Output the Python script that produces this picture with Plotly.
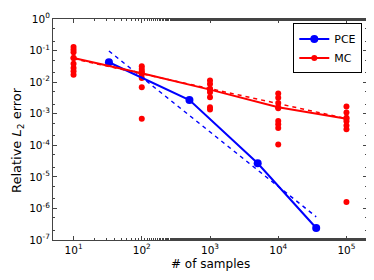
import plotly.graph_objects as go

# PCE data
pce_n = [33, 500, 5000, 36000]
pce_err = [0.0427, 0.0027, 2.7e-5, 2.4e-7]
pce_fit_n = [33, 36000]
pce_fit_err = [0.097, 5.4e-7]

# MC mean data
mc_n = [10, 100, 1000, 10000, 100000]
mc_err = [0.058, 0.019, 0.0058, 0.0016, 6.9e-4]
mc_fit_n = [10, 100000]
mc_fit_err = [0.055, 7.0e-4]

# MC individual runs
mc_runs_n = (
    [10] * 8 + [100] * 7 + [1000] * 7 + [10000] * 8 + [100000] * 7
)
mc_runs_err = (
    [0.13, 0.107, 0.089, 0.058, 0.038, 0.028, 0.022, 0.017]
    + [0.032, 0.026, 0.022, 0.018, 0.0135, 0.0069, 0.00069]
    + [0.0112, 0.0088, 0.0062, 0.0048, 0.0033, 0.0016, 0.00135]
    + [0.0044, 0.0032, 0.0022, 0.0015, 5.9e-4, 4.6e-4, 3.5e-4, 1.05e-4]
    + [0.0017, 0.0011, 7.4e-4, 5.8e-4, 4.2e-4, 3.2e-4, 1.6e-6]
)

# tick labels
x_tickvals = [10, 100, 1000, 10000, 100000]
x_ticktext = ["10<sup>1</sup>", "10<sup>2</sup>", "10<sup>3</sup>", "10<sup>4</sup>", "10<sup>5</sup>"]
y_tickvals = [1, 1e-1, 1e-2, 1e-3, 1e-4, 1e-5, 1e-6, 1e-7]
y_ticktext = ["10<sup>0</sup>", "10<sup>-1</sup>", "10<sup>-2</sup>", "10<sup>-3</sup>",
              "10<sup>-4</sup>", "10<sup>-5</sup>", "10<sup>-6</sup>", "10<sup>-7</sup>"]

x_title = "# of samples"
y_title = "Relative <i>L</i><sub>2</sub> error"

BLUE = "#0000ff"
RED = "#ff0000"
FONT = "DejaVu Sans"

fig = go.Figure()
fig.add_trace(go.Scatter(x=mc_runs_n, y=mc_runs_err, mode="markers",
                         marker=dict(color=RED, size=6), showlegend=False))
fig.add_trace(go.Scatter(x=pce_fit_n, y=pce_fit_err, mode="lines",
                         line=dict(color=BLUE, width=1.5, dash="4px,4px"), showlegend=False))
fig.add_trace(go.Scatter(x=mc_fit_n, y=mc_fit_err, mode="lines",
                         line=dict(color=RED, width=1.5, dash="4px,4px"), showlegend=False))
fig.add_trace(go.Scatter(x=pce_n, y=pce_err, mode="lines+markers", name="PCE",
                         line=dict(color=BLUE, width=2),
                         marker=dict(color=BLUE, size=8)))
fig.add_trace(go.Scatter(x=mc_n, y=mc_err, mode="lines+markers", name="MC",
                         line=dict(color=RED, width=2),
                         marker=dict(color=RED, size=6)))

axis_common = dict(
    type="log", showgrid=False, zeroline=False, showline=True, automargin=False,
    linecolor="#444444", linewidth=1, mirror="allticks",
    ticks="inside", ticklen=4, tickcolor="#444444",
    minor=dict(ticks="inside", ticklen=2, tickcolor="#444444"),
    tickfont=dict(family=FONT, size=10.5, color="#000000"),
)

fig.update_xaxes(**axis_common, range=[0.699, 5.301],
                 tickmode="array", tickvals=x_tickvals, ticktext=x_ticktext)
fig.update_yaxes(**axis_common, range=[-7, 0],
                 tickmode="array", tickvals=y_tickvals, ticktext=y_ticktext)

fig.add_annotation(text=x_title, xref="paper", yref="paper", x=0.5, y=-0.11,
                   xanchor="center", yanchor="middle", showarrow=False,
                   font=dict(family=FONT, size=12, color="#000000"))
fig.add_annotation(text=y_title, xref="paper", yref="paper", x=-0.113, y=0.45,
                   xanchor="center", yanchor="middle", showarrow=False, textangle=-90,
                   font=dict(family=FONT, size=13, color="#000000"))

fig.update_layout(
    width=374, height=280,
    margin=dict(l=45, r=15, t=11, b=48, autoexpand=False),
    paper_bgcolor="white", plot_bgcolor="white",
    showlegend=True,
    legend=dict(x=0.985, y=0.98, xanchor="right", yanchor="top",
                bordercolor="#000000", borderwidth=1, bgcolor="white",
                font=dict(family=FONT, size=11, color="#000000"),
                itemwidth=30, tracegroupgap=0),
)

fig.write_html("out.html")
